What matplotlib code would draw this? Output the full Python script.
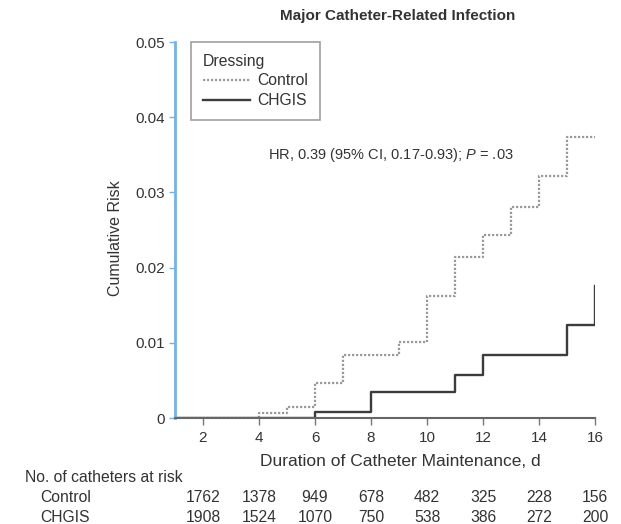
import matplotlib
matplotlib.use("Agg")
import matplotlib.pyplot as plt
import matplotlib.transforms as mtransforms

plt.rcParams['font.family'] = ['Liberation Sans', 'DejaVu Sans']
plt.rcParams['mathtext.fontset'] = 'custom'
plt.rcParams['mathtext.rm'] = 'Liberation Sans'
plt.rcParams['mathtext.it'] = 'Liberation Sans:italic'

# Data
control_days = [1, 4, 5, 6, 7, 9, 10, 11, 12, 13, 14, 15, 16]
control_risk = [0, 0.0006, 0.0015, 0.0046, 0.0084, 0.0101, 0.0162, 0.0214,
                0.0243, 0.0281, 0.0322, 0.0374, 0.0374]
chgis_days = [1, 6, 8, 11, 12, 15, 16]
chgis_risk = [0, 0.0008, 0.0034, 0.0057, 0.0084, 0.0124, 0.0175]

risk_days = [2, 4, 6, 8, 10, 12, 14, 16]
control_at_risk = [1762, 1378, 949, 678, 482, 325, 228, 156]
chgis_at_risk = [1908, 1524, 1070, 750, 538, 386, 272, 200]

x_ticks = [2, 4, 6, 8, 10, 12, 14, 16]
y_ticks = [0, 0.01, 0.02, 0.03, 0.04, 0.05]
y_tick_labels = ["0", "0.01", "0.02", "0.03", "0.04", "0.05"]

W, H = 621, 524
fig = plt.figure(figsize=(W / 100, H / 100), dpi=100)
ax = fig.add_axes([175 / W, (H - 418) / H, 420 / W, 376 / H])

txt = '#333333'
ax.plot(control_days, control_risk, drawstyle='steps-post', color='#9a9a9a',
        linestyle=(0, (1, 0.8)), linewidth=1.6, label='Control')
ax.plot(chgis_days, chgis_risk, drawstyle='steps-post', color='#3c3c3c',
        linewidth=1.7, label='CHGIS')

ax.set_xlim(1, 16)
ax.set_ylim(0, 0.05)
ax.set_xticks(x_ticks)
ax.set_yticks(y_ticks)
ax.set_yticklabels(y_tick_labels)
for s in ['top', 'right']:
    ax.spines[s].set_visible(False)
ax.spines['left'].set_color('#74b3e2')
ax.spines['left'].set_linewidth(2)
ax.spines['bottom'].set_color('#666666')
ax.spines['bottom'].set_linewidth(1.5)
ax.tick_params(axis='x', colors='#777777', labelcolor=txt, labelsize=11,
               length=5, width=1, pad=4)
ax.tick_params(axis='y', colors='#74b3e2', labelcolor=txt, labelsize=11,
               length=4, width=1, pad=3)

ax.set_xlabel('Duration of Catheter Maintenance, d', fontsize=12.5, color=txt)
ax.xaxis.set_label_coords((400 - 175) / 420, (418 - 461) / 376)
ax.xaxis.label.set_va('center')
ax.set_ylabel('Cumulative Risk', fontsize=11.5, color=txt)
ax.yaxis.set_label_coords((116 - 175) / 420, (418 - 238) / 376)
ax.yaxis.label.set_va('center')

fig.text(398 / W, 1 - 16 / H, 'Major Catheter-Related Infection', ha='center',
         va='center', fontsize=11, fontweight='bold', color=txt)

leg = ax.legend(title='Dressing', loc='upper left',
                bbox_to_anchor=((191 - 175) / 420, 1.0), borderaxespad=0,
                fontsize=11.3, title_fontsize=11.3, frameon=True, fancybox=False,
                edgecolor='#888888', handlelength=3.0, handletextpad=0.45,
                borderpad=0.75, labelspacing=0.3, alignment='left')
leg.get_frame().set_linewidth(1.2)
leg.get_title().set_color(txt)
for t in leg.get_texts():
    t.set_color(txt)

ax.text(268 / W, 1 - 155 / H, r'HR, 0.39 (95% CI, 0.17-0.93); $\it{P}$ = .03',
        transform=fig.transFigure, fontsize=10.5, color=txt, va='center', ha='left')

# At-risk table
trans = mtransforms.blended_transform_factory(ax.transData, fig.transFigure)
fs_tab = 11.3
fig.text(25 / W, 1 - 477 / H, 'No. of catheters at risk', fontsize=fs_tab,
         color=txt, va='center', ha='left')
fig.text(40 / W, 1 - 497 / H, 'Control', fontsize=fs_tab, color=txt, va='center', ha='left')
fig.text(40 / W, 1 - 517 / H, 'CHGIS', fontsize=fs_tab, color=txt, va='center', ha='left')
for d, c, g in zip(risk_days, control_at_risk, chgis_at_risk):
    ax.text(d, 1 - 497 / H, str(c), transform=trans, fontsize=fs_tab, color=txt,
            ha='center', va='center', clip_on=False)
    ax.text(d, 1 - 517 / H, str(g), transform=trans, fontsize=fs_tab, color=txt,
            ha='center', va='center', clip_on=False)

fig.savefig('out.png', dpi=100)
